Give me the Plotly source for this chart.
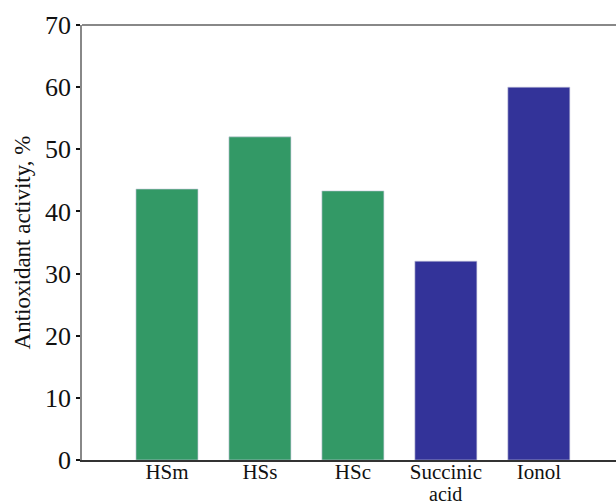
import plotly.graph_objects as go

categories = ["HSm", "HSs", "HSc", "Succinic", "Ionol"]
label_second_lines = ["", "", "", "acid", ""]
activity = [43.6, 52.0, 43.3, 32.0, 60.0]
bar_colors = ["#339966", "#339966", "#339966", "#333399", "#333399"]
y_ticks = [0, 10, 20, 30, 40, 50, 60, 70]

font_family = "Liberation Serif, Times New Roman, serif"
positions = list(range(len(categories)))

fig = go.Figure(
    go.Bar(
        x=positions,
        y=activity,
        width=0.667,
        marker=dict(color=bar_colors, line=dict(color="rgba(200,200,220,0.6)", width=1)),
    )
)

# second line of the two-line category label, placed under its tick label
for pos, extra in zip(positions, label_second_lines):
    if extra:
        fig.add_annotation(
            x=pos, xref="x", y=0, yref="paper",
            text=extra, showarrow=False,
            yanchor="bottom", yshift=-46, borderpad=0,
            font=dict(size=20, family=font_family, color="#111111"),
        )

fig.update_layout(
    width=616,
    height=504,
    margin=dict(l=82, r=0, t=25, b=44),
    plot_bgcolor="white",
    paper_bgcolor="white",
    showlegend=False,
    font=dict(family=font_family, color="#111111"),
    xaxis=dict(
        tickmode="array",
        tickvals=positions,
        ticktext=categories,
        range=[-0.914, 4.83],
        automargin=False,
        showline=True,
        linecolor="#333333",
        linewidth=1.5,
        ticks="",
        ticklabelstandoff=-8,
        showgrid=False,
        zeroline=False,
        tickfont=dict(size=21, family=font_family, color="#111111"),
    ),
    yaxis=dict(
        range=[0, 70],
        tickvals=y_ticks,
        automargin=False,
        showline=True,
        linecolor="#888888",
        linewidth=1.5,
        ticks="outside",
        ticklen=4,
        tickcolor="#111111",
        tickwidth=1.5,
        showgrid=False,
        zeroline=False,
        tickfont=dict(size=26, family=font_family, color="#111111"),
        title=dict(text="Antioxidant activity, %", font=dict(size=23, family=font_family), standoff=8),
    ),
    shapes=[
        dict(type="line", xref="paper", yref="paper", x0=0, x1=1, y0=1, y1=1,
             line=dict(color="#888888", width=2)),
    ],
)

fig.write_html("out.html")
